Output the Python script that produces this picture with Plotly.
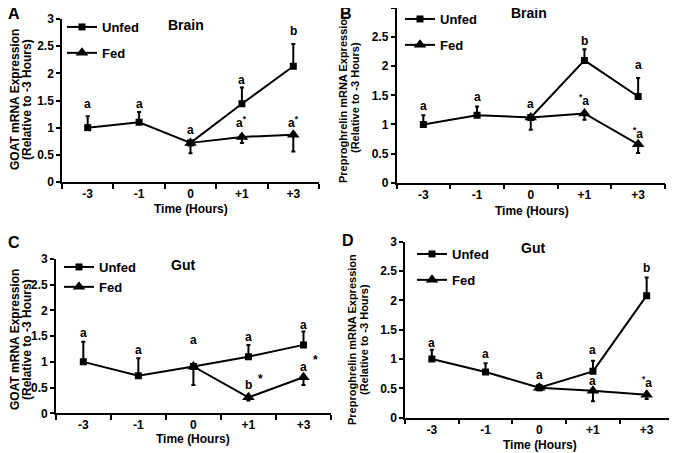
import plotly.graph_objects as go

times = ["-3", "-1", "0", "+1", "+3"]

# A - GOAT, brain
unfed_a = [1.0, 1.1, 0.72, 1.44, 2.13]
unfed_a_err = [0.21, 0.19, 0, 0.30, 0.41]
fed_a = [None, None, 0.72, 0.83, 0.87]
fed_a_err = [0, 0, 0.19, 0.11, 0.31]
lbl_a_x = ["-3", "-1", "0", "+1", "+3", "+1", "+3"]
lbl_a_y = [1.43, 1.43, 0.96, 1.88, 2.78, 1.10, 1.10]
lbl_a_txt = ["a", "a", "a", "a", "b", "a<sup>*</sup>", "a<sup>*</sup>"]

# B - preproghrelin, brain
unfed_b = [1.0, 1.16, 1.12, 2.10, 1.48]
unfed_b_err = [0.16, 0.15, 0, 0.19, 0.32]
fed_b = [None, None, 1.12, 1.19, 0.66]
fed_b_err = [0, 0, 0.21, 0.11, 0.15]
lbl_b_x = ["-3", "-1", "0", "+1", "+3", "+1", "+3"]
lbl_b_y = [1.31, 1.47, 1.35, 2.44, 2.02, 1.42, 0.85]
lbl_b_txt = ["a", "a", "a", "b", "a", "<sup>*</sup>a", "<sup>*</sup>a"]

# C - GOAT, gut
unfed_c = [1.0, 0.73, 0.91, 1.10, 1.33]
unfed_c_err = [0.39, 0.34, 0, 0.23, 0.26]
fed_c = [None, None, 0.91, 0.31, 0.70]
fed_c_err = [0, 0, 0.36, 0.06, 0.15]
lbl_c_x = ["-3", "-1", "0", "+1", "+3", "+1", "+3"]
lbl_c_y = [1.56, 1.23, 1.43, 1.49, 1.72, 0.55, 0.91]
lbl_c_txt = ["a", "a", "a", "a", "a", "b", "a"]
star_c_x = ["+1", "+3"]
star_c_y = [0.67, 1.04]

# D - preproghrelin, gut
unfed_d = [1.0, 0.78, 0.51, 0.79, 2.08]
unfed_d_err = [0.16, 0.15, 0.05, 0.18, 0.31]
fed_d = [None, None, 0.51, 0.46, 0.39]
fed_d_err = [0, 0, 0.04, 0.18, 0.07]
lbl_d_x = ["-3", "-1", "0", "+1", "+1", "+3", "+3"]
lbl_d_y = [1.27, 1.08, 0.72, 1.15, 0.63, 2.56, 0.61]
lbl_d_txt = ["a", "a", "a", "a", "a", "b", "<sup>*</sup>a"]

FONT = "Liberation Sans, Arial, sans-serif"
W, H = 677, 453
OFF = 8  # page body margin, the plot starts 8px in


def px(x, y):
    # screen pixel -> paper fraction
    return (x - OFF) / W, 1 - (y - OFF) / H


fig = go.Figure()


def add_panel(n, unfed, unfed_err, fed, fed_err, xdom, ydom, legpos, gap):
    sfx = "" if n == 1 else str(n)
    leg = "legend" + sfx
    fig.add_trace(go.Scatter(
        x=times, y=unfed, name="Unfed", mode="lines+markers",
        xaxis="x" + sfx, yaxis="y" + sfx, legend=leg, legendgroup="u",
        line=dict(color="black", width=2),
        marker=dict(symbol="square", size=7, color="black"),
        error_y=dict(type="data", symmetric=False, array=unfed_err,
                     arrayminus=[0] * 5, color="black", thickness=2, width=2),
    ))
    fig.add_trace(go.Scatter(
        x=times, y=fed, name="Fed", mode="lines+markers",
        xaxis="x" + sfx, yaxis="y" + sfx, legend=leg, legendgroup="f",
        line=dict(color="black", width=2),
        marker=dict(symbol="triangle-up", size=11, color="black"),
        error_y=dict(type="data", symmetric=False, array=[0] * 5,
                     arrayminus=fed_err, color="black", thickness=2, width=2),
    ))
    l, t = px(xdom[0], ydom[0])
    r, b = px(xdom[1], ydom[1])
    lx, ly = px(*legpos)
    fig.update_layout({
        "xaxis" + sfx: dict(domain=[l, r], anchor="y" + sfx, type="category",
                            range=[-0.5, 4.5], showline=True, linecolor="black",
                            linewidth=1.5, ticks="outside", tickson="boundaries",
                            ticklen=5, tickwidth=1.5, tickcolor="black",
                            showgrid=False, zeroline=False, automargin=False,
                            tickfont=dict(size=12)),
        "yaxis" + sfx: dict(domain=[b, min(t, 1.0)], anchor="x" + sfx,
                            range=[0, 3], dtick=0.5, showline=True,
                            linecolor="black", linewidth=1.5, ticks="outside",
                            ticklen=4, tickwidth=1.5, tickcolor="black",
                            showgrid=False, zeroline=False, automargin=False,
                            tickfont=dict(size=12)),
        leg: dict(x=lx, y=ly, xanchor="left", yanchor="top",
                  traceorder="reversed+grouped", tracegroupgap=gap,
                  itemwidth=30, bgcolor="rgba(0,0,0,0)", font=dict(size=13)),
    })


def add_labels(n, xs, ys, txts, xshift=0):
    sfx = "" if n == 1 else str(n)
    for x, y, t in zip(xs, ys, txts):
        # category index, so "-3" / "0" are not read as numbers
        fig.add_annotation(x=times.index(x), y=y, text=t, xref="x" + sfx,
                           yref="y" + sfx, showarrow=False, xshift=xshift,
                           font=dict(size=12))


def paper_text(x, y, text, size, angle=0):
    fx, fy = px(x, y)
    fig.add_annotation(x=fx, y=fy, text=text, xref="paper", yref="paper",
                       showarrow=False, textangle=angle, xanchor="center",
                       yanchor="middle", font=dict(size=size))


# plot areas in screen pixels: (left, right), (top, bottom), legend corner
add_panel(1, unfed_a, unfed_a_err, fed_a, fed_a_err,
          (62, 319), (19, 182), (62, 12), 6)
add_panel(2, unfed_b, unfed_b_err, fed_b, fed_b_err,
          (396.5, 665), (6.7, 182.7), (400, 4), 6)
add_panel(3, unfed_c, unfed_c_err, fed_c, fed_c_err,
          (55.8, 331), (259, 413.3), (59, 252), 0)
add_panel(4, unfed_d, unfed_d_err, fed_d, fed_d_err,
          (405, 673.5), (241.7, 417.7), (412, 239), 6)

add_labels(1, lbl_a_x, lbl_a_y, lbl_a_txt)
add_labels(2, lbl_b_x, lbl_b_y, lbl_b_txt)
add_labels(3, lbl_c_x, lbl_c_y, lbl_c_txt)
add_labels(3, star_c_x, star_c_y, ["*", "*"], xshift=12)
add_labels(4, lbl_d_x, lbl_d_y, lbl_d_txt)

# panel titles
paper_text(185.7, 25, "Brain", 14)
paper_text(529, 13.5, "Brain", 14)
paper_text(183, 265, "Gut", 14)
paper_text(533, 247.7, "Gut", 14)

# panel letters
paper_text(14, 14, "A", 16)
paper_text(346, 13.5, "B", 16)
paper_text(14, 242, "C", 16)
paper_text(348, 241, "D", 16)

# y axis titles, one annotation per line
rel = "(Relative to -3 Hours)"
paper_text(15, 100, "GOAT mRNA Expression", 12, -90)
paper_text(27, 100, rel, 12, -90)
paper_text(343, 98, "Preproghrelin mRNA Expression", 11, -90)
paper_text(355, 98, rel, 11, -90)
paper_text(15, 340, "GOAT mRNA Expression", 12, -90)
paper_text(27, 340, rel, 12, -90)
paper_text(352, 340, "Preproghrelin mRNA Expression", 11, -90)
paper_text(364, 340, rel, 11, -90)

# x axis titles
paper_text(190.8, 209, "Time (Hours)", 12)
paper_text(532, 210.7, "Time (Hours)", 12)
paper_text(193, 438.7, "Time (Hours)", 12)
paper_text(540, 445, "Time (Hours)", 12)

fig.update_layout(
    width=W, height=H, autosize=False,
    margin=dict(l=0, r=0, t=0, b=0, autoexpand=False),
    plot_bgcolor="white", paper_bgcolor="white",
    font=dict(family=FONT, color="black", size=11, weight="bold"),
)

fig.write_html("out.html")
